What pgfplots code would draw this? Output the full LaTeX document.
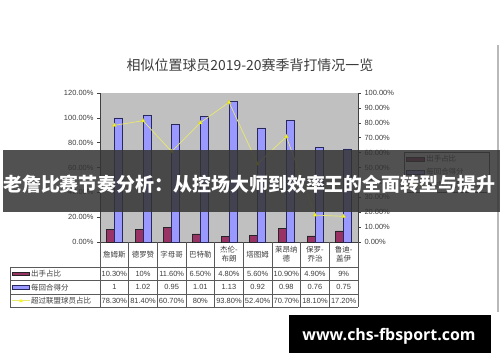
\documentclass[border=0pt]{standalone}
\usepackage{pgfplots}
\usepackage{pgfplotstable}
\pgfplotsset{compat=1.18}
\usepackage{fontspec}
\setmainfont{Liberation Sans}
\newfontfamily\cjk{Noto Sans CJK SC}
\newfontfamily\wm{Open Sans}
\definecolor{plotgray}{RGB}{192,192,192}
\definecolor{barmaroon}{RGB}{153,51,102}
\definecolor{barblue}{RGB}{153,153,255}
\definecolor{bluedge}{RGB}{40,40,90}
\definecolor{linecol}{RGB}{232,232,110}
\definecolor{markcol}{RGB}{245,245,40}
\definecolor{txt}{RGB}{60,60,60}
\definecolor{tablecol}{RGB}{90,90,90}

\pgfplotsset{
  barlegend/.style={legend image code/.code={\draw[##1] (0bp,-2bp) rectangle (18bp,2bp);}},
  linelegend/.style={legend image code/.code={\draw[##1] (0bp,0bp) -- (18bp,0bp);
    \fill[markcol] (7bp,-1.5bp) -- (11bp,-1.5bp) -- (9bp,2bp) -- cycle;}},
}

\pgfplotstableread{
idx shot pts over
0 0.103 1.00 0.783
1 0.100 1.02 0.814
2 0.116 0.95 0.607
3 0.065 1.01 0.800
4 0.048 1.13 0.938
5 0.056 0.92 0.524
6 0.109 0.98 0.707
7 0.049 0.76 0.181
8 0.090 0.75 0.172
}\datatable

\begin{document}
\begin{tikzpicture}[x=1bp,y=1bp]
\path[use as bounding box] (0,0) rectangle (500,362);
\draw[gray!55, line width=1.5bp] (498,317) -- (498,50);
\node[text=txt, font=\cjk\fontsize{14}{16}\selectfont] at (250,297) {相似位置球员2019-20赛季背打情况一览};

\begin{axis}[
 at={(100bp,120bp)}, anchor=south west, scale only axis,
 width=258bp, height=149bp,
 xmin=-0.5, xmax=8.5, ymin=0, ymax=1.2,
 ybar=0pt, bar width=8bp,
 axis background/.style={fill=plotgray},
 axis x line*=bottom, axis y line*=left,
 axis line style={black!75, line width=0.6bp},
 xtick=\empty,
 ytick={0,0.2,0.4,0.6,0.8,1.0,1.2},
 yticklabels={0.00\%,20.00\%,40.00\%,60.00\%,80.00\%,100.00\%,120.00\%},
 tick align=outside, major tick length=3bp,
 tick style={black!75, line width=0.5bp},
 yticklabel style={font=\fontsize{7.5}{8}\selectfont, text=txt},
 legend style={at={(1.178,0.604)}, anchor=north west, draw=black!70, fill=white,
   font=\cjk\fontsize{7.5}{8}\selectfont, text=txt, inner sep=1.5bp, row sep=1bp,
   /tikz/every even column/.append style={column sep=2bp}},
 legend cell align=left,
]
\addplot[draw=black!85, fill=barmaroon, line width=0.5bp, barlegend]
  table[x=idx,y=shot]{\datatable};
\addplot[draw=bluedge, fill=barblue, line width=0.5bp, barlegend]
  table[x=idx,y=pts]{\datatable};
\addlegendimage{draw=linecol, line width=0.7bp, linelegend}
\legend{出手占比,每回合得分,超过联盟球员占比}
\end{axis}

\begin{axis}[
 at={(100bp,120bp)}, anchor=south west, scale only axis,
 width=258bp, height=149bp,
 xmin=-0.5, xmax=8.5, ymin=0, ymax=1,
 axis x line=none, axis y line*=right,
 axis line style={black!75, line width=0.6bp},
 ytick={0,0.1,0.2,0.3,0.4,0.5,0.6,0.7,0.8,0.9,1.0},
 yticklabels={0.00\%,10.00\%,20.00\%,30.00\%,40.00\%,50.00\%,60.00\%,70.00\%,80.00\%,90.00\%,100.00\%},
 tick align=outside, major tick length=3bp,
 tick style={black!75, line width=0.5bp},
 yticklabel style={font=\fontsize{7.5}{8}\selectfont, text=txt},
]
\addplot[linecol, line width=0.7bp, mark=triangle*, mark size=2.3bp,
  mark options={fill=markcol, draw=markcol!85!black, line width=0.3bp}]
  table[x=idx,y=over]{\datatable};
\end{axis}

% data table
\foreach \k in {0,...,9} {\draw[tablecol, line width=0.5bp] ({100+28.667*\k},120) -- ({100+28.667*\k},55);}
\foreach \yy in {95,81.3,68,55} {\draw[tablecol, line width=0.5bp] (10,\yy) -- (358,\yy);}
\draw[tablecol, line width=0.5bp] (10,95) -- (10,55);
\foreach \n [count=\i from 0] in {詹姆斯,德罗赞,字母哥,巴特勒,{杰伦-\\布朗},塔图姆,{莱昂纳\\德},{保罗-\\乔治},{鲁迪-\\盖伊}}
  {\node[align=center, text=txt, font=\cjk\fontsize{7.5}{9}\selectfont, inner sep=0] at ({114.33+28.667*\i},107.5) {\n};}
\foreach \n [count=\i from 0] in {10.30\%,10\%,11.60\%,6.50\%,4.80\%,5.60\%,10.90\%,4.90\%,9\%}
  {\node[text=txt, font=\fontsize{7.5}{8}\selectfont, inner sep=0] at ({114.33+28.667*\i},88.2) {\n};}
\foreach \n [count=\i from 0] in {1,1.02,0.95,1.01,1.13,0.92,0.98,0.76,0.75}
  {\node[text=txt, font=\fontsize{7.5}{8}\selectfont, inner sep=0] at ({114.33+28.667*\i},74.7) {\n};}
\foreach \n [count=\i from 0] in {78.30\%,81.40\%,60.70\%,80\%,93.80\%,52.40\%,70.70\%,18.10\%,17.20\%}
  {\node[text=txt, font=\fontsize{7.5}{8}\selectfont, inner sep=0] at ({114.33+28.667*\i},61.5) {\n};}
\draw[black!85, fill=barmaroon, line width=0.5bp] (12,86.3) rectangle (29,90);
\draw[bluedge, fill=barblue, line width=0.5bp] (12,72.8) rectangle (29,76.5);
\draw[linecol, line width=0.7bp] (12,61.5) -- (30,61.5);
\fill[markcol] (19,59.8) -- (23,59.8) -- (21,63.3) -- cycle;
\node[anchor=west, text=txt, font=\cjk\fontsize{7.5}{8}\selectfont, inner sep=0] at (31,88.2) {出手占比};
\node[anchor=west, text=txt, font=\cjk\fontsize{7.5}{8}\selectfont, inner sep=0] at (31,74.7) {每回合得分};
\node[anchor=west, text=txt, font=\cjk\fontsize{7.5}{8}\selectfont, inner sep=0] at (31,61.5) {超过联盟球员占比};

% banner
\fill[black!80, opacity=0.85] (3,150) rectangle (500,212);
\node[anchor=west, text=white, font=\cjk\bfseries\fontsize{19}{21}\selectfont, inner sep=0] at (3,178) {老詹比赛节奏分析：从控场大师到效率王的全面转型与提升};

% watermark
\fill[black] (289,9) rectangle (491,47);
\node[text=white, font=\wm\bfseries\fontsize{16}{18}\selectfont, inner sep=0] at (389,26) {www.chs-fbsport.com};
\end{tikzpicture}
\end{document}
